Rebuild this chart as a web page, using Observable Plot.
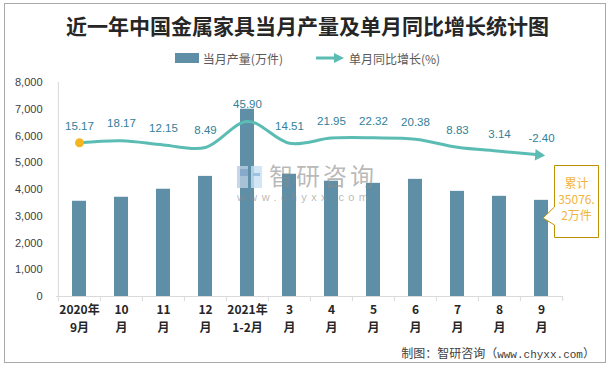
<!DOCTYPE html>
<html>
<head>
<meta charset="utf-8">
<script src="https://cdn.jsdelivr.net/npm/d3@7"></script>
<script src="https://cdn.jsdelivr.net/npm/@observablehq/plot@0.6"></script>
<style>
  html, body { margin: 0; padding: 0; background: #fff; }
  #page { position: relative; width: 615px; height: 369px; overflow: hidden; font-family: "Noto Sans CJK SC", sans-serif; }
  #border { position: absolute; left: 4px; top: 3px; width: 602px; height: 360px; border: 1px solid #a9a9a9; box-sizing: border-box; }
  #title { position: absolute; left: 0; width: 615px; top: 10px; text-align: center; font-size: 21px; font-weight: bold; color: #262626; line-height: 30px; letter-spacing: 0px; }
  #legend { position: absolute; left: 0; width: 615px; top: 49px; height: 18px; display: flex; justify-content: center; align-items: center; font-size: 12px; color: #595959; }
  .lg { display: flex; align-items: center; margin: 0 11px; }
  #chart { position: absolute; left: 0; top: 70px; }
  #chart svg text { font-family: "Liberation Sans", sans-serif; }
  #chart svg [aria-label="x-axis tick label"] text { font-family: "Noto Sans CJK SC", sans-serif; font-weight: bold; font-size: 12px; fill: #262626; }
  #chart svg [aria-label="y-axis tick label"] text { font-size: 11px; fill: #404040; }
  #footer { position: absolute; right: 20px; top: 344px; font-size: 12px; color: #404040; white-space: nowrap; }
  #footer .u { font-family: "Liberation Mono", monospace; font-size: 11px; }
  #wm { position: absolute; left: 237px; top: 160px; width: 150px; height: 50px; pointer-events: none; }
  #callout { position: absolute; left: 540px; top: 163px; }
</style>
</head>
<body>
<div id="page">
  <div id="border"></div>
  <div id="title"></div>
  <div id="legend"></div>
  <div id="chart"></div>
  <div id="wm"></div>
  <div id="callout"></div>
  <div id="footer"></div>
</div>
<script>
// ---- data ----
const titleText = "近一年中国金属家具当月产量及单月同比增长统计图";
const seriesBarName = "当月产量(万件)";
const seriesLineName = "单月同比增长(%)";
const categories = ["2020-09","2020-10","2020-11","2020-12","2021-01/02","2021-03","2021-04","2021-05","2021-06","2021-07","2021-08","2021-09"];
const xLabelTop = ["2020年","10","11","12","2021年","3","4","5","6","7","8","9"];
const xLabelBottom = ["9月","月","月","月","1-2月","月","月","月","月","月","月","月"];
const output = [3560, 3710, 4010, 4490, 7000, 4570, 4310, 4230, 4380, 3930, 3745, 3595];
const growth = [15.17, 18.17, 12.15, 8.49, 45.90, 14.51, 21.95, 22.32, 20.38, 8.83, 3.14, -2.40];
const yTicks = [0, 1000, 2000, 3000, 4000, 5000, 6000, 7000, 8000];
const calloutLines = ["累计", "35076.", "2万件"];
const footerCJK = "制图：智研咨询（";
const footerURL = "www.chyxx.com";
const footerEnd = "）";
const wmName = "智研咨询";
const wmURL = "www.chyxx.com";

// ---- colours ----
const barColor = "#5e8fa6";
const lineColor = "#5bbcb4";
const labelColor = "#31809a";
const dotColor = "#f5b523";

// ---- static text ----
document.getElementById("title").textContent = titleText;
document.getElementById("legend").innerHTML =
  `<div class="lg"><svg width="24" height="10" style="margin-right:4px"><rect x="0" y="0" width="24" height="10" fill="${barColor}"/></svg><span>${seriesBarName}</span></div>` +
  `<div class="lg" style="margin-left:22px"><svg width="28" height="10" style="margin-right:5px"><line x1="0" y1="5" x2="20" y2="5" stroke="${lineColor}" stroke-width="3"/><path d="M18,0 L28,5 L18,10 Z" fill="${lineColor}"/></svg><span>${seriesLineName}</span></div>`;
document.getElementById("footer").innerHTML = `${footerCJK}<span class="u">${footerURL}</span>${footerEnd}`;

// ---- chart ----
const width = 615, height = 266, ml = 56, mr = 52, mt = 12, mb = 40;
const step = (width - ml - mr) / categories.length;
const bars = categories.map((c, i) => ({cat: c, v: output[i]}));
const pts = categories.map((c, i) => ({cat: c, g: growth[i]}));
// secondary (hidden) axis for growth, mapped onto the primary range
const y2 = d3.scaleLinear().domain([-206, 102]).range([0, 8000]);
const topOf = new Map(categories.map((c, i) => [c, xLabelTop[i]]));
const bottomOf = new Map(categories.map((c, i) => [c, xLabelBottom[i]]));

const chart = Plot.plot({
  width, height,
  marginLeft: ml, marginRight: mr, marginTop: mt, marginBottom: mb,
  style: {background: "transparent", overflow: "visible"},
  x: {type: "band", domain: categories, paddingInner: 0.67, paddingOuter: 0.335, align: 0.5, label: null},
  y: {domain: [0, 8000], label: null},
  marks: [
    Plot.barY(bars, {x: "cat", y: "v", fill: barColor}),
    Plot.ruleY([0], {stroke: "#d9d9d9", strokeWidth: 1}),
    Plot.ruleX([categories[0]], {x: d => d, dx: -step / 2, y1: -190, y2: 8000, stroke: "#d9d9d9"}),
    Plot.ruleX(categories.slice(1), {x: d => d, dx: -step / 2, y1: -190, y2: 0, stroke: "#d9d9d9"}),
    Plot.ruleX([categories[categories.length - 1]], {x: d => d, dx: step / 2, y1: -190, y2: 0, stroke: "#d9d9d9"}),
    Plot.axisY({ticks: yTicks, tickSize: 0, tickPadding: 14, tickFormat: d3.format(","), label: null}),
    Plot.axisX({tickSize: 0, tickPadding: 9, tickFormat: d => topOf.get(d), label: null}),
    Plot.axisX({tickSize: 0, tickPadding: 27, tickFormat: d => bottomOf.get(d), label: null}),
    Plot.line(pts, {x: "cat", y: d => y2(d.g), curve: "catmull-rom", stroke: lineColor, strokeWidth: 3}),
    Plot.dot([pts[0]], {x: "cat", y: d => y2(d.g), r: 4.5, fill: dotColor, stroke: "none"}),
    Plot.dot([pts[pts.length - 1]], {x: "cat", y: d => y2(d.g), symbol: "triangle2", rotate: 94, r: 5.5, dx: -3, fill: lineColor, stroke: "none"}),
    Plot.text(pts, {x: "cat", y: d => y2(d.g), text: d => d.g.toFixed(2), dy: -17, fill: labelColor, fontSize: 11.5})
  ]
});
document.getElementById("chart").appendChild(chart);

// ---- watermark ----
document.getElementById("wm").innerHTML =
  `<svg width="150" height="50" style="position:absolute;left:0;top:0;overflow:visible">
     <rect x="0" y="6" width="11" height="22" fill="#b9cde3" opacity="0.8"/>
     <rect x="3" y="9" width="8" height="7" fill="#7fa3c9" opacity="0.8"/>
     <rect x="14" y="6" width="11" height="22" fill="#c7e0f2" opacity="0.8"/>
     <rect x="16" y="13" width="7" height="3" fill="#8fb8dd" opacity="0.8"/>
     <text x="32" y="18" dominant-baseline="middle" font-family="Noto Sans CJK SC" font-size="24" fill="#8a8a8a" fill-opacity="0.6" letter-spacing="3">${wmName}</text>
     <text x="0" y="38" dominant-baseline="middle" font-family="Liberation Sans" font-size="11" fill="#8a8a8a" fill-opacity="0.6" letter-spacing="4.4">${wmURL}</text>
   </svg>`;

// ---- callout ----
document.getElementById("callout").innerHTML =
  `<svg width="62" height="78">
     <path d="M14.5,2.5 H58.5 V74.5 H14.5 V62 L3,55 L14.5,44 Z" fill="#fff" stroke="#bf9000" stroke-width="1"/>
     ${calloutLines.map((t, i) => `<text x="36.5" y="${22 + i * 16}" text-anchor="middle" dominant-baseline="middle" font-family="Noto Sans CJK SC" font-size="12" fill="#f2b33d">${t}</text>`).join("")}
   </svg>`;
</script>
</body>
</html>
